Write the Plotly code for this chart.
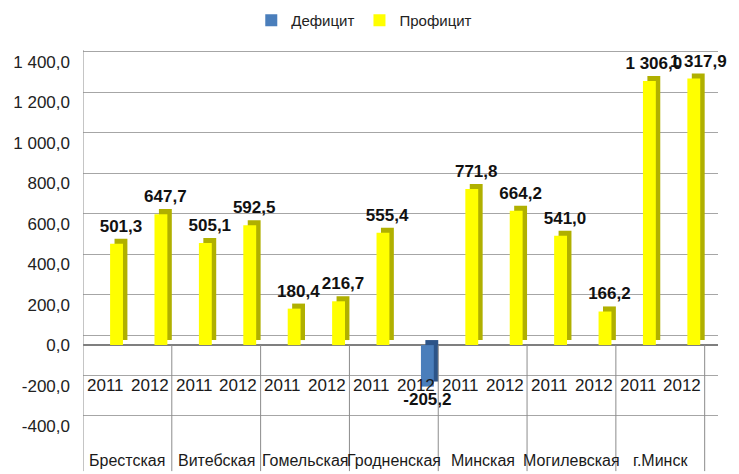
import plotly.graph_objects as go

regions = ["Брестская", "Витебская", "Гомельская", "Гродненская", "Минская", "Могилевская", "г.Минск"]
years = ["2011", "2012"]
values = [501.3, 647.7, 505.1, 592.5, 180.4, 216.7, 555.4, -205.2,
          771.8, 664.2, 541.0, 166.2, 1306.0, 1317.9]
y_ticks = [-400, -200, 0, 200, 400, 600, 800, 1000, 1200, 1400]

def fmt(v):
    s = f"{abs(v):,.1f}".replace(",", " ").replace(".", ",")
    return "-" + s if v < 0 else s

xs = list(range(len(values)))
pos = [v if v > 0 else None for v in values]
neg = [v if v < 0 else None for v in values]
pos_txt = [fmt(v) if v > 0 else "" for v in values]
neg_txt = [fmt(v) if v < 0 else "" for v in values]

FONT = "Liberation Sans, Arial, sans-serif"
DEPTH = 25          # 3D depth of bars (value units)
WALL = 50           # 3D shift of back-wall gridlines (value units)
W = 0.29
OFF = 0.11
SH = 0.10
Y_TOP = 1459.4      # axis top so back gridline for 1400 fits

fig = go.Figure()
# invisible trace on the back-wall axis so its grid renders
fig.add_trace(go.Scatter(x=[None], y=[None], yaxis="y2", showlegend=False, hoverinfo="skip"))
# depth (3D side) traces
fig.add_trace(go.Bar(x=xs, y=pos, base=DEPTH, width=W, offset=OFF + SH,
                     marker=dict(color="#b0b000", line=dict(width=0)),
                     text=pos_txt, textposition="outside", constraintext="none",
                     cliponaxis=False,
                     textfont=dict(family=FONT, size=17, color="#111111", weight="bold"),
                     showlegend=False, hoverinfo="skip"))
fig.add_trace(go.Bar(x=xs, y=neg, base=DEPTH, width=W, offset=OFF + SH,
                     marker=dict(color="#2c5488", line=dict(width=0)),
                     showlegend=False, hoverinfo="skip"))
# front faces
fig.add_trace(go.Bar(x=xs, y=neg, width=W, offset=OFF, name="Дефицит",
                     marker=dict(color="#4a7ebb", line=dict(width=0)),
                     text=neg_txt, textposition="outside", constraintext="none",
                     cliponaxis=False,
                     textfont=dict(family=FONT, size=17, color="#111111", weight="bold")))
fig.add_trace(go.Bar(x=xs, y=pos, width=W, offset=OFF, name="Профицит",
                     marker=dict(color="#ffff00", line=dict(width=0))))

annotations = []
for i in xs:
    annotations.append(dict(x=i, y=-200, xref="x", yref="y", text=years[i % 2],
                            showarrow=False, font=dict(family=FONT, size=17, color="#1a1a1a")))
for k, r in enumerate(regions):
    annotations.append(dict(x=2 * k + 0.5, y=-0.093, xref="x", yref="paper", text=r,
                            showarrow=False, yanchor="middle",
                            font=dict(family=FONT, size=16, color="#1a1a1a")))

y0_paper = (0 - y_ticks[0]) / (Y_TOP - y_ticks[0])
shapes = []
for k in range(len(regions) + 1):
    shapes.append(dict(type="line", xref="x", yref="paper", x0=2 * k - 0.5, x1=2 * k - 0.5,
                       y0=(1 if k == 0 else y0_paper), y1=-0.12,
                       line=dict(color="#8c8c8c", width=1)))

fig.update_layout(
    width=739, height=474,
    margin=dict(l=83, r=21, t=50, b=48, autoexpand=False),
    paper_bgcolor="white", plot_bgcolor="white",
    barmode="overlay",
    font=dict(family=FONT, size=16, color="#222222"),
    legend=dict(orientation="h", x=0.265, xanchor="left", xref="paper",
                y=1 - 4 / 474, yanchor="top", yref="container",
                font=dict(family=FONT, size=15, color="#222222"),
                itemwidth=30, traceorder="normal"),
    xaxis=dict(range=[-0.5, 13.8], showticklabels=False, showgrid=False, zeroline=False,
               showline=False, ticks=""),
    yaxis=dict(range=[y_ticks[0], Y_TOP], tickvals=y_ticks,
               ticktext=[fmt(t) for t in y_ticks],
               showgrid=False,
               zeroline=True, zerolinecolor="#7f7f7f", zerolinewidth=1.5,
               showline=False, ticks="", ticklabelstandoff=12,
               tickfont=dict(family=FONT, size=17, color="#222222")),
    yaxis2=dict(overlaying="y", side="left", range=[y_ticks[0] - WALL, Y_TOP - WALL],
                tickvals=y_ticks, showticklabels=False, showgrid=True,
                gridcolor="#a6a6a6", gridwidth=1, zeroline=False, showline=False, ticks=""),
    annotations=annotations,
    shapes=shapes,
)

fig.write_html("out.html", config={"displayModeBar": False},
               post_script="document.body.style.margin='0';document.body.style.overflow='hidden';")
